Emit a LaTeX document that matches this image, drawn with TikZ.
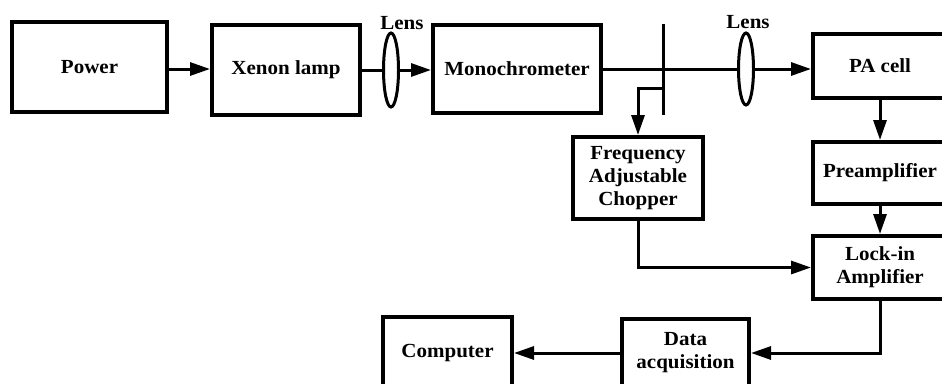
\documentclass[tikz,border=0pt]{standalone}
\usepackage{fontspec}
\setmainfont{Liberation Serif}[FakeStretch=1.05]
\usetikzlibrary{arrows.meta,shapes.geometric}
\begin{document}
\begin{tikzpicture}[x=1pt,y=-1pt,
  font=\fontsize{20}{23}\selectfont\bfseries,
  box/.style={draw,line width=4pt,inner sep=0pt,align=center},
  lens/.style={draw,ellipse,line width=3pt,inner sep=0pt,minimum width=15pt},
  wire/.style={line width=3pt},
  arr/.style={line width=3pt,-{Triangle[length=20pt,width=13pt]}}]
\useasboundingbox (0,0) rectangle (942,383);
\node[box,minimum width=155pt,minimum height=90pt] (power) at (89.5,67) {Power};
\node[box,minimum width=148pt,minimum height=90pt] (xenon) at (286,70) {Xenon lamp};
\node[lens,minimum height=74pt] (lens1) at (391,70) {};
\node[box,minimum width=168pt,minimum height=88pt] (mono) at (517,69) {Monochrometer};
\node[lens,minimum height=72pt] (lens2) at (746,69) {};
\node[box,minimum width=134pt,minimum height=64pt] (pacell) at (880,66) {PA cell};
\node[box,minimum width=134pt,minimum height=62pt] (preamp) at (880,173) {Preamplifier};
\node[box,minimum width=134pt,minimum height=63pt] (lockin) at (880,267.5) {Lock-in\\Amplifier};
\node[box,minimum width=130pt,minimum height=82pt] (chopper) at (638,178) {Frequency\\Adjustable\\Chopper};
\node[box,minimum width=127pt,minimum height=68pt] (dataacq) at (685.5,353) {Data\\acquisition};
\node[box,minimum width=129pt,minimum height=72pt] (computer) at (447.5,353) {Computer};
\node (lenslbl1) at (402,23) {Lens};
\node (lenslbl2) at (748,22) {Lens};
\coordinate (bladetop) at (663,24);
\coordinate (bladebot) at (663,115);
\coordinate (tap) at (663,88);
% light path
\draw[arr] (power.east |- 0,69) -- (xenon.west |- 0,69);
\draw[wire] (xenon.east) -- (lens1.west);
\draw[arr] (lens1.east) -- (lens1.east -| mono.west);
\draw[wire] (mono.east |- lens2) -- (lens2.west);
\draw[arr] (lens2.east) -- (lens2.east -| pacell.west);
\draw[wire] (bladetop) -- (bladebot);
\draw[arr] (tap) -| (chopper.north);
% signal path
\draw[arr] (pacell.south) -- (preamp.north);
\draw[arr] (preamp.south) -- (lockin.north);
\draw[arr] (chopper.south) |- (lockin.west);
\draw[arr] (lockin.south) |- (dataacq.east);
\draw[arr] (dataacq.west) -- (computer.east);
\end{tikzpicture}
\end{document}
